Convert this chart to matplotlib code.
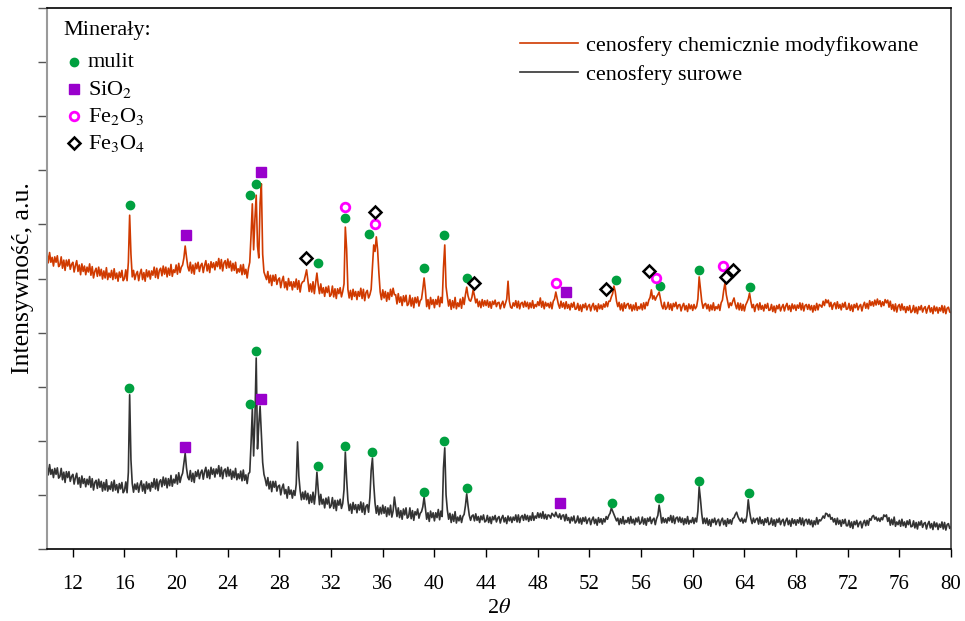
import numpy as np
import matplotlib
matplotlib.use("Agg")
import matplotlib.pyplot as plt

plt.rcParams['font.family'] = ['Liberation Serif', 'DejaVu Serif']
plt.rcParams['mathtext.fontset'] = 'stix'

# Scan axis: 2-theta from 10 to 80 deg, 0.1 deg step
two_theta = np.round(np.arange(10.0, 80.05, 0.1), 1)

# Raw cenospheres, intensity (a.u.), one row per degree (x.0 .. x.9)
raw_rows = [
    [154, 137, 156, 138, 147, 132, 149, 138, 150, 131],
    [134, 149, 128, 142, 123, 143, 132, 143, 125, 134],
    [138, 120, 132, 140, 120, 132, 114, 135, 121, 130],
    [115, 129, 119, 134, 114, 130, 109, 123, 127, 112],
    [129, 114, 125, 107, 123, 109, 128, 107, 117, 110],
    [124, 107, 127, 109, 119, 104, 121, 111, 123, 104],
    [108, 124, 104, 142, 285, 165, 121, 105, 120, 110],
    [122, 105, 118, 126, 107, 120, 103, 124, 111, 121],
    [107, 123, 114, 130, 111, 129, 108, 124, 128, 115],
    [133, 118, 131, 113, 130, 117, 136, 116, 129, 122],
    [137, 120, 141, 123, 134, 140, 158, 177, 150, 133],
    [128, 145, 125, 140, 123, 143, 134, 146, 130, 141],
    [146, 129, 143, 151, 132, 146, 130, 151, 138, 148],
    [133, 148, 139, 154, 134, 151, 130, 145, 148, 134],
    [151, 135, 147, 129, 144, 132, 149, 128, 139, 130],
    [144, 126, 146, 127, 137, 121, 139, 142, 195, 259],
    [172, 240, 353, 185, 230, 264, 214, 160, 138, 129],
    [117, 132, 111, 125, 106, 125, 114, 125, 107, 116],
    [118, 100, 113, 120, 102, 110, 94, 115, 101, 109],
    [94, 108, 99, 120, 198, 135, 108, 91, 105, 92],
    [107, 91, 103, 84, 100, 86, 105, 83, 104, 142],
    [110, 82, 101, 83, 92, 76, 94, 83, 96, 76],
    [80, 95, 75, 90, 71, 90, 81, 92, 75, 84],
    [110, 179, 130, 90, 71, 83, 66, 86, 73, 82],
    [67, 82, 72, 87, 68, 85, 64, 79, 82, 68],
    [95, 145, 168, 120, 85, 66, 80, 63, 77, 65],
    [81, 66, 78, 60, 76, 63, 81, 59, 70, 96],
    [78, 60, 76, 58, 71, 55, 74, 63, 76, 57],
    [60, 76, 56, 71, 53, 69, 63, 74, 57, 66],
    [69, 78, 96, 75, 55, 67, 51, 70, 58, 67],
    [52, 67, 58, 73, 54, 70, 60, 150, 187, 100],
    [72, 55, 66, 49, 64, 51, 69, 48, 59, 52],
    [62, 49, 60, 64, 80, 102, 80, 62, 53, 61],
    [63, 52, 65, 53, 60, 49, 61, 54, 63, 50],
    [52, 62, 49, 59, 47, 60, 54, 62, 50, 57],
    [60, 48, 57, 62, 50, 58, 47, 61, 52, 59],
    [49, 59, 53, 63, 50, 63, 49, 59, 62, 53],
    [64, 54, 62, 51, 61, 53, 67, 53, 61, 57],
    [67, 58, 66, 57, 69, 56, 64, 55, 63, 62],
    [57, 66, 63, 60, 68, 61, 58, 65, 55, 62],
    [63, 52, 64, 53, 58, 48, 59, 52, 61, 48],
    [51, 61, 48, 57, 46, 58, 51, 59, 47, 54],
    [57, 45, 54, 59, 47, 55, 44, 58, 49, 56],
    [46, 56, 50, 60, 55, 62, 66, 76, 70, 64],
    [58, 52, 57, 45, 56, 47, 60, 46, 53, 49],
    [58, 47, 60, 48, 55, 45, 57, 50, 59, 46],
    [49, 59, 46, 56, 44, 57, 51, 59, 47, 54],
    [57, 45, 56, 62, 81, 66, 48, 58, 49, 56],
    [48, 58, 52, 62, 49, 61, 47, 57, 59, 50],
    [59, 49, 57, 45, 56, 47, 60, 46, 53, 49],
    [58, 47, 57, 50, 70, 115, 92, 65, 47, 57],
    [47, 57, 44, 54, 42, 55, 49, 57, 45, 52],
    [55, 43, 52, 57, 45, 53, 42, 56, 47, 54],
    [46, 56, 58, 64, 68, 60, 55, 51, 57, 48],
    [55, 50, 62, 91, 70, 56, 47, 57, 49, 55],
    [57, 46, 59, 47, 54, 44, 56, 49, 58, 45],
    [47, 57, 44, 54, 42, 55, 49, 57, 45, 52],
    [55, 43, 52, 57, 45, 53, 42, 56, 47, 54],
    [44, 54, 48, 58, 45, 57, 43, 53, 55, 46],
    [55, 45, 53, 41, 52, 45, 58, 46, 54, 52],
    [56, 61, 57, 66, 65, 60, 64, 55, 58, 50],
    [56, 45, 57, 46, 53, 42, 54, 47, 55, 43],
    [43, 53, 40, 50, 38, 51, 45, 53, 41, 48],
    [51, 39, 48, 53, 43, 53, 44, 56, 53, 60],
    [62, 55, 59, 52, 57, 51, 58, 54, 63, 60],
    [63, 51, 58, 44, 55, 45, 59, 42, 50, 45],
    [53, 42, 55, 43, 50, 40, 52, 45, 54, 41],
    [42, 52, 39, 49, 37, 50, 44, 52, 40, 47],
    [49, 37, 46, 51, 39, 47, 36, 50, 41, 48],
    [36, 46, 40, 50, 37, 49, 35, 45, 47, 38],
]
raw_last = 41

# Chemically modified cenospheres, same layout
mod_rows = [
    [547, 529, 548, 530, 539, 523, 540, 530, 542, 522],
    [525, 540, 519, 534, 515, 534, 523, 535, 517, 526],
    [530, 512, 524, 533, 513, 525, 507, 527, 513, 523],
    [507, 521, 512, 527, 506, 522, 501, 513, 519, 504],
    [521, 505, 517, 499, 514, 501, 520, 498, 510, 502],
    [515, 498, 518, 500, 510, 495, 512, 502, 515, 496],
    [500, 516, 496, 530, 617, 545, 503, 515, 498, 508],
    [513, 496, 509, 517, 498, 511, 495, 516, 503, 514],
    [499, 514, 506, 521, 502, 519, 500, 515, 519, 505],
    [523, 508, 521, 503, 519, 506, 526, 504, 516, 511],
    [525, 508, 528, 511, 521, 525, 538, 560, 540, 522],
    [514, 530, 510, 525, 508, 528, 518, 530, 513, 524],
    [528, 511, 524, 533, 514, 527, 511, 531, 520, 529],
    [516, 531, 522, 537, 518, 535, 514, 529, 533, 519],
    [536, 520, 532, 514, 528, 515, 530, 510, 518, 512],
    [525, 507, 526, 508, 517, 501, 519, 530, 580, 638],
    [553, 610, 654, 560, 538, 640, 675, 545, 512, 505],
    [498, 513, 492, 506, 487, 506, 495, 507, 489, 498],
    [501, 483, 496, 504, 483, 494, 479, 500, 486, 494],
    [479, 494, 484, 499, 480, 496, 475, 490, 494, 495],
    [505, 516, 497, 476, 490, 475, 494, 472, 492, 510],
    [488, 472, 490, 473, 483, 467, 484, 474, 486, 467],
    [470, 486, 466, 481, 463, 481, 472, 483, 466, 476],
    [490, 595, 555, 480, 464, 478, 461, 480, 467, 476],
    [461, 476, 467, 482, 463, 480, 459, 474, 478, 464],
    [470, 480, 520, 562, 550, 577, 553, 510, 475, 461],
    [479, 464, 476, 458, 474, 461, 480, 467, 482, 470],
    [470, 453, 472, 456, 466, 450, 468, 457, 469, 450],
    [453, 469, 449, 464, 446, 465, 455, 466, 449, 459],
    [462, 480, 501, 478, 448, 461, 444, 465, 452, 461],
    [446, 461, 452, 467, 448, 465, 455, 520, 562, 485],
    [466, 449, 461, 443, 459, 446, 465, 444, 455, 448],
    [462, 445, 465, 452, 470, 484, 468, 460, 458, 465],
    [479, 468, 455, 462, 448, 458, 446, 461, 449, 459],
    [450, 460, 447, 457, 445, 458, 452, 460, 448, 455],
    [456, 444, 453, 458, 446, 454, 462, 495, 458, 447],
    [445, 455, 449, 459, 446, 458, 444, 454, 456, 447],
    [458, 448, 456, 444, 455, 446, 459, 445, 452, 448],
    [457, 450, 464, 447, 458, 444, 456, 449, 454, 446],
    [456, 444, 458, 462, 475, 463, 452, 445, 458, 447],
    [455, 444, 457, 445, 452, 442, 454, 447, 456, 443],
    [444, 454, 441, 451, 439, 452, 446, 454, 442, 449],
    [452, 440, 449, 454, 442, 450, 439, 453, 444, 451],
    [443, 453, 447, 457, 448, 458, 458, 466, 472, 486],
    [476, 458, 448, 456, 442, 453, 440, 455, 445, 452],
    [454, 444, 452, 440, 451, 442, 455, 441, 448, 444],
    [453, 442, 455, 444, 456, 450, 460, 465, 479, 462],
    [468, 460, 466, 470, 475, 462, 450, 444, 456, 443],
    [446, 456, 443, 453, 441, 454, 448, 456, 444, 451],
    [452, 440, 449, 454, 442, 450, 439, 453, 444, 451],
    [441, 452, 444, 448, 462, 503, 480, 458, 445, 452],
    [454, 444, 452, 440, 451, 442, 455, 441, 448, 444],
    [452, 441, 455, 460, 478, 492, 470, 458, 446, 455],
    [450, 458, 464, 452, 444, 455, 442, 454, 441, 452],
    [440, 451, 456, 462, 473, 458, 446, 452, 439, 450],
    [453, 442, 455, 443, 450, 440, 452, 445, 454, 441],
    [442, 452, 439, 449, 437, 450, 444, 452, 440, 447],
    [452, 440, 449, 454, 442, 450, 439, 453, 444, 451],
    [441, 451, 445, 455, 442, 454, 440, 450, 452, 443],
    [452, 442, 450, 438, 450, 441, 454, 442, 452, 450],
    [447, 458, 450, 461, 455, 460, 448, 456, 443, 452],
    [455, 444, 457, 445, 452, 442, 454, 447, 456, 443],
    [444, 454, 441, 451, 439, 452, 446, 454, 442, 449],
    [452, 440, 450, 456, 445, 454, 444, 459, 450, 457],
    [449, 460, 451, 462, 452, 459, 448, 457, 450, 461],
    [455, 460, 447, 458, 443, 452, 440, 453, 438, 449],
    [452, 441, 453, 442, 448, 437, 448, 441, 450, 437],
    [440, 450, 437, 447, 435, 448, 442, 450, 438, 445],
    [448, 436, 445, 450, 438, 446, 435, 449, 440, 447],
    [436, 446, 440, 450, 437, 449, 435, 445, 447, 438],
]
mod_last = 437

raw_intensity = np.array([v for row in raw_rows for v in row] + [raw_last])
mod_intensity = np.array([v for row in mod_rows for v in row] + [mod_last])
assert raw_intensity.size == two_theta.size == mod_intensity.size

# Phase identification marks (2-theta, intensity level of the mark)
mulit_x = [16.35, 25.75, 26.2, 30.95, 33.1, 35.15, 39.2, 40.75, 42.5, 53.75, 57.4, 60.5, 64.35,
           16.4, 25.7, 26.15, 30.97, 33.07, 34.92, 39.18, 40.73, 42.51, 54.04, 57.45, 60.46, 64.41]
mulit_y = [298, 268, 366, 153, 190, 179, 105, 200, 113, 85, 94, 126, 103,
           636, 654, 675, 529, 612, 582, 519, 580, 501, 497, 486, 516, 484]
sio2_x = [20.7, 26.6, 49.7, 20.76, 26.6, 50.17]
sio2_y = [189, 277, 85, 580, 697, 475]
fe2o3_x = [33.07, 35.4, 49.4, 57.14, 62.32]
fe2o3_y = [632, 601, 492, 501, 523]
fe3o4_x = [30.05, 35.4, 43.05, 53.27, 56.59, 62.55, 63.1]
fe3o4_y = [538, 623, 492, 480, 514, 503, 516]

series_labels = ["cenosfery chemicznie modyfikowane", "cenosfery surowe"]
mineral_labels = ["mulit", "SiO$_2$", "Fe$_2$O$_3$", "Fe$_3$O$_4$"]
x_ticks = list(range(12, 81, 4))

col_mod = "#D03A00"
col_raw = "#333333"
mk_mulit = dict(marker="o", ms=6, color="#00A040", mec="#00A040", ls="none")
mk_sio2 = dict(marker="s", ms=6.5, color="#9900CC", mec="#9900CC", ls="none")
mk_fe2o3 = dict(marker="o", ms=6.2, mfc="white", mec="#FF00FF", mew=2.0, ls="none")
mk_fe3o4 = dict(marker="D", ms=6.0, mfc="white", mec="black", mew=1.8, ls="none")

fig = plt.figure(figsize=(9.65, 6.21), dpi=100)
ax = fig.add_axes([47 / 965, 72 / 621, 904 / 965, 541 / 621])

l_mod, = ax.plot(two_theta, mod_intensity, color=col_mod, lw=1.2)
l_raw, = ax.plot(two_theta, raw_intensity, color=col_raw, lw=1.2)

ax.plot(mulit_x, mulit_y, **mk_mulit)
ax.plot(sio2_x, sio2_y, **mk_sio2)
ax.plot(fe2o3_x, fe2o3_y, **mk_fe2o3)
ax.plot(fe3o4_x, fe3o4_y, **mk_fe3o4)

ax.set_xlim(10, 80)
ax.set_ylim(0, 1000)
ax.set_xticks(x_ticks)
ax.set_yticks(np.arange(0, 1001, 100))
ax.set_yticklabels([])
ax.tick_params(axis="x", direction="out", length=6, width=1.0, labelsize=15, pad=12.5, color="black")
ax.tick_params(axis="y", direction="out", length=6.5, width=1.0, color="#555555")

ax.spines["left"].set_color("#9a9a9a")
ax.spines["left"].set_linewidth(1.5)
for side in ("top", "bottom"):
    ax.spines[side].set_color("black")
    ax.spines[side].set_linewidth(1.2)
ax.spines["right"].set_color("#404040")
ax.spines["right"].set_linewidth(1.2)

ax.set_xlabel("2$\\theta$", fontsize=16, labelpad=4)
ax.set_ylabel("Intensywność, a.u.", fontsize=18.5)
ax.yaxis.set_label_coords(-0.0144, 0.5)

# Series legend
ax.legend([l_mod, l_raw], series_labels, loc="upper left", bbox_to_anchor=(0.523, 0.950),
          frameon=False, fontsize=16, handlelength=2.6, handletextpad=0.4,
          labelspacing=0.4, borderpad=0, borderaxespad=0)

# Mineral key
ax.text(0.0177, 0.959, "Minerały:", transform=ax.transAxes, fontsize=16, va="center", ha="left")
key_y = [0.900, 0.850, 0.800, 0.750]
key_styles = [mk_mulit, mk_sio2, mk_fe2o3, mk_fe3o4]
for yy, lab, st in zip(key_y, mineral_labels, key_styles):
    ax.plot([0.0299], [yy], transform=ax.transAxes, clip_on=False, **st)
    ax.text(0.0454, yy, lab, transform=ax.transAxes, fontsize=16, va="center", ha="left")

fig.savefig("out.png", dpi=100)
